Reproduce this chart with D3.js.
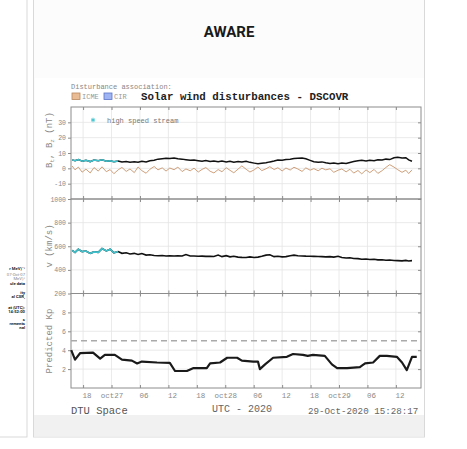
<!DOCTYPE html>
<html>
<head>
<meta charset="utf-8">
<script src="https://cdn.jsdelivr.net/npm/d3@7"></script>
<style>
  html, body { margin: 0; padding: 0; background: #fff; }
  svg { display: block; }
</style>
</head>
<body>
<div id="chart"></div>
<script>
// hours since 2020-10-26 00:00 UTC
const hours = [
  15.7, 16.3, 17.0, 17.8, 18.6, 19.5, 20.3, 21.2, 22.0, 22.9, 23.7, 24.5, 25.4,
  26.2, 27.1, 27.9, 28.8, 29.6, 30.4, 31.3, 32.1, 33.0, 33.8, 34.7, 35.5,
  36.3, 37.2, 38.0, 38.9, 39.7, 40.6, 41.4, 42.3, 43.1, 43.9, 44.8, 45.6,
  46.5, 47.3, 48.2, 49.0, 49.8, 50.7, 51.5, 52.4, 53.2, 54.1, 54.9, 55.7,
  56.6, 57.4, 58.3, 59.1, 60.0, 60.8, 61.7, 62.5, 63.3, 64.2, 65.0, 65.9,
  66.7, 67.6, 68.4, 69.2, 70.1, 70.9, 71.8, 72.6, 73.5, 74.3, 75.1, 76.0,
  76.8, 77.7, 78.5, 79.4, 80.2, 81.1, 81.9, 82.7, 83.6, 84.4, 85.3, 86.1,
  86.7, 87.4
];
const bTotal = [
  5.5, 5.0, 5.8, 4.6, 5.2, 4.4, 5.4, 4.9, 5.6, 4.7, 5.0, 4.3, 4.8,
  4.1, 4.5, 3.9, 4.3, 4.0, 4.6, 4.2, 5.0, 5.3, 6.0, 6.3, 6.6,
  6.4, 6.7, 6.2, 6.0, 5.6, 5.2, 5.5, 5.0, 4.6, 5.1, 4.4, 4.8,
  4.3, 4.7, 4.2, 4.6, 4.0, 4.4, 4.1, 4.6, 3.9, 3.4, 3.0, 3.3,
  3.6, 4.2, 4.8, 5.4, 5.2, 5.7, 6.0, 6.4, 6.6, 6.8, 6.2, 5.2,
  4.3, 3.9, 4.2, 3.6, 3.2, 3.5, 3.0, 3.4, 3.1, 3.8, 4.4, 4.9,
  5.2, 4.8, 5.3, 5.0, 5.6, 5.4, 6.0, 5.7, 6.9, 7.3, 6.8, 6.9,
  5.5, 4.6
];
const bZ = [
  1.5, -1.0, 0.8, -2.5, -0.5, -3.0, 0.5, -1.8, 1.0, -2.2, -0.8, -3.5, -1.0,
  0.6, -2.0, -0.4, -2.8, 0.9, -1.5, -3.2, -0.6, 1.2, -1.0, 0.3, -1.8,
  0.2, -0.9, 0.8, -2.1, -0.4, -1.6, 0.1, -2.4, -0.7, 0.5, -1.9, -3.0,
  -0.8, -2.2, 0.4, -1.3, -2.9, -0.5, 1.6, -0.6, -2.4, -1.0, 0.9, -1.5,
  -0.3, 1.1, -0.8, 0.4, -1.7, 0.2, -1.1, 0.7, -0.4, -2.0, 0.3, -1.2,
  -0.2, -1.6, 0.1, -1.0, -0.3, -2.6, -1.2, -0.4, -2.3, -0.6, -3.1, -1.4,
  -3.6, -1.0, -2.8, -0.7, -3.3, -1.5, 0.6, 2.4, 0.8, -0.9, -2.6, -1.2,
  -3.4, -1.0
];
const speed = [
  565, 548, 575, 555, 560, 540, 552, 548, 580, 560, 575, 545, 555,
  540, 545, 535, 540, 530, 538, 525, 528, 522, 520, 522, 518,
  520, 518, 519, 517, 530, 517, 518, 515, 516, 514, 515, 513,
  525, 512, 520, 510, 515, 508, 506, 505, 510, 505, 508, 515,
  525, 528, 512, 515, 510, 512, 520, 525, 520, 518, 516, 515,
  514, 513, 512, 510, 512, 508, 515, 505, 500, 502, 496, 495,
  490, 492, 488, 490, 485, 486, 482, 483, 480, 478, 476, 480,
  475, 478
];
const hssEnd = 25.4; // high speed stream flagged up to this hour

const kpHours = [
  15.5, 16.3, 17.4, 20.1, 21.6, 22.6, 24.7, 26.2, 28.3, 29.4, 30.4, 33.6,
  36.3, 37.4, 39.9, 41.2, 44.1, 44.8, 46.9, 48.4, 50.5, 51.5, 53.9, 54.9,
  55.3, 56.4, 58.1, 61.0, 62.3, 64.4, 65.4, 66.5, 69.0, 70.5, 71.6, 73.7,
  76.4, 77.5, 79.2, 80.6, 82.1, 84.2, 85.3, 86.3, 87.4, 88.4
];
const kpValues = [
  4.0, 3.0, 3.7, 3.75, 3.1, 3.5, 3.5, 3.0, 2.9, 2.6, 2.8, 2.7,
  2.65, 1.8, 1.8, 2.1, 2.1, 2.6, 2.7, 3.2, 3.2, 2.9, 2.8, 2.8,
  2.0, 2.5, 3.2, 3.3, 3.6, 3.5, 3.4, 3.5, 3.4, 2.5, 2.1, 2.1,
  2.2, 2.6, 2.7, 3.4, 3.4, 3.3, 2.7, 1.9, 3.3, 3.3
];
const kpThreshold = 5;

const xTickHours = [18, 24, 30, 36, 42, 48, 54, 60, 66, 72, 78, 84];
const xTickLabels = ["18", "oct27", "06", "12", "18", "oct28", "06", "12", "18", "oct29", "06", "12"];
const bTicks = [-10, 0, 10, 20, 30];
const vTicks = [200, 400, 600, 800, 1000];
const kpTicks = [2, 4, 6, 8];

const leftPanelLines = [
  { t: "r MeV)\u207B\u00B9", y: 270, b: true },
  { t: "07-Oct-07", y: 276, b: false },
  { t: "MeV)\u00B9", y: 280, b: false },
  { t: "ule data", y: 285, b: true },
  { t: "ity", y: 294, b: true },
  { t: "al CSR,", y: 298, b: true },
  { t: "at (UTC):", y: 309, b: true },
  { t: "14:52:00", y: 313, b: true },
  { t: "s", y: 321, b: true },
  { t: "rements", y: 325, b: true },
  { t: "nal", y: 329, b: true }
];

const W = 467, H = 449;
const mono = "'Liberation Mono', 'DejaVu Sans Mono', monospace";
const t0 = Date.UTC(2020, 9, 26);
const toDate = (h) => new Date(t0 + h * 3600e3);

const svg = d3.select("#chart").append("svg")
  .attr("width", W).attr("height", H)
  .style("font-family", mono);

// ---- page panels ----
svg.append("rect").attr("x", -2).attr("y", -2).attr("width", 29).attr("height", 439)
  .attr("fill", "#fff").attr("stroke", "#d9d9d9");
svg.append("rect").attr("x", 33.5).attr("y", -2).attr("width", 391).attr("height", 439)
  .attr("fill", "#fcfcfc").attr("stroke", "#d9d9d9");
svg.append("rect").attr("x", 34).attr("y", 415).attr("width", 390).attr("height", 21.5)
  .attr("fill", "#f1f1f1");
svg.append("rect").attr("x", 35).attr("y", 78).attr("width", 389).attr("height", 337)
  .attr("fill", "#fff");

svg.append("g")
  .selectAll("text").data(leftPanelLines).enter().append("text")
  .attr("x", 25).attr("y", (d) => d.y)
  .attr("text-anchor", "end")
  .style("font-family", "Roboto, sans-serif")
  .style("font-size", "4.2px")
  .style("font-weight", (d) => (d.b ? 700 : 400))
  .attr("fill", (d) => (d.b ? "#222" : "#888"))
  .text((d) => d.t);

svg.append("text")
  .attr("x", 229).attr("y", 37)
  .attr("text-anchor", "middle")
  .style("font-family", "Roboto, sans-serif")
  .style("font-weight", 700)
  .style("font-size", "15px")
  .attr("fill", "#1a1a1a")
  .text("AWARE");

// ---- chart header ----
svg.append("text").attr("x", 71).attr("y", 89)
  .style("font-size", "7px").attr("fill", "#888")
  .text("Disturbance association:");

const legendBoxes = [
  { label: "ICME", fill: "#e9bc96", stroke: "#b9875e", x: 72 },
  { label: "CIR", fill: "#9fb4f2", stroke: "#5a73c8", x: 104 }
];
legendBoxes.forEach((d) => {
  svg.append("rect").attr("x", d.x).attr("y", 93).attr("width", 8).attr("height", 6.5)
    .attr("fill", d.fill).attr("stroke", d.stroke).attr("stroke-width", 0.8);
  svg.append("text").attr("x", d.x + 10).attr("y", 99)
    .style("font-size", "7px").attr("fill", "#999").text(d.label);
});

svg.append("text").attr("x", 141).attr("y", 100)
  .style("font-size", "10.8px").style("font-weight", 700).attr("fill", "#222")
  .text("Solar wind disturbances - DSCOVR");

// ---- scales ----
const x = d3.scaleUtc()
  .domain([toDate(15.45), toDate(89.3)])
  .range([71, 421]);

const panels = [
  { top: 107, bottom: 199, domain: [-20, 40], ticks: bTicks },
  { top: 199, bottom: 293.5, domain: [200, 1000], ticks: vTicks },
  { top: 293.5, bottom: 388, domain: [0, 10], ticks: kpTicks }
];
panels.forEach((p) => {
  p.y = d3.scaleLinear().domain(p.domain).range([p.bottom, p.top]);
});

const xTicks = xTickHours.map(toDate);
const gridColor = "#e4e4e4";
const axisColor = "#8c8c8c";

panels.forEach((p, i) => {
  const g = svg.append("g").attr("class", "panel");

  // grid
  g.append("g").selectAll("line").data(xTicks).enter().append("line")
    .attr("x1", (d) => x(d)).attr("x2", (d) => x(d))
    .attr("y1", p.top).attr("y2", p.bottom)
    .attr("stroke", gridColor).attr("stroke-width", 0.8);
  g.append("g").selectAll("line").data(p.ticks.filter((t) => t > p.domain[0] && t < p.domain[1]))
    .enter().append("line")
    .attr("x1", 71).attr("x2", 421)
    .attr("y1", (d) => p.y(d)).attr("y2", (d) => p.y(d))
    .attr("stroke", gridColor).attr("stroke-width", 0.8);

  // left axis with labels
  g.append("g").attr("transform", "translate(71,0)")
    .call(d3.axisLeft(p.y).tickValues(p.ticks).tickSize(3).tickPadding(2)
      .tickFormat((d) => String(d)))
    .call((a) => a.select(".domain").remove())
    .call((a) => a.selectAll("line").attr("stroke", axisColor))
    .call((a) => a.selectAll("text").style("font-family", mono)
      .style("font-size", "6.5px").attr("fill", "#8a8a8a"));

  // right axis inner ticks
  g.append("g").attr("transform", "translate(421,0)")
    .call(d3.axisRight(p.y).tickValues(p.ticks).tickSize(-3).tickFormat(""))
    .call((a) => a.select(".domain").remove())
    .call((a) => a.selectAll("line").attr("stroke", axisColor));

  // top inner ticks
  g.append("g").attr("transform", `translate(0,${p.top})`)
    .call(d3.axisTop(x).tickValues(xTicks).tickSize(-3).tickFormat(""))
    .call((a) => a.select(".domain").remove())
    .call((a) => a.selectAll("line").attr("stroke", axisColor));

  // bottom inner ticks (labels on last panel)
  const bottomAxis = d3.axisBottom(x).tickValues(xTicks).tickSize(-3).tickPadding(5)
    .tickFormat(i === panels.length - 1 ? (d, k) => xTickLabels[k] : "");
  g.append("g").attr("transform", `translate(0,${p.bottom})`)
    .call(bottomAxis)
    .call((a) => a.select(".domain").remove())
    .call((a) => a.selectAll("line").attr("stroke", axisColor))
    .call((a) => a.selectAll("text").style("font-family", mono)
      .style("font-size", "7.5px").attr("fill", "#8a8a8a")
      .attr("dx", (d, k) => (xTickLabels[k].length === 2 ? 3.5 : 0)));

  // box
  g.append("rect")
    .attr("x", 71).attr("y", p.top)
    .attr("width", 350).attr("height", p.bottom - p.top)
    .attr("fill", "none").attr("stroke", axisColor).attr("stroke-width", 1);
});

// ---- y labels ----
const yLab = (cx, cy) => svg.append("text")
  .attr("transform", `translate(${cx},${cy}) rotate(-90)`)
  .attr("text-anchor", "middle")
  .style("font-size", "9px").attr("fill", "#8a8a8a");

const bLab = yLab(52, 140);
bLab.append("tspan").text("B");
bLab.append("tspan").attr("dy", 2).style("font-size", "6px").text("t");
bLab.append("tspan").attr("dy", -2).text(", B");
bLab.append("tspan").attr("dy", 2).style("font-size", "6px").text("z");
bLab.append("tspan").attr("dy", -2).text(" (nT)");
yLab(52, 246).text("v (km/s)");
yLab(52, 341).text("Predicted Kp");

// ---- data lines ----
const pB = panels[0], pV = panels[1], pK = panels[2];
const rows = hours.map((h, i) => ({ t: toDate(h), h, b: bTotal[i], bz: bZ[i], v: speed[i] }));
const hss = rows.filter((d) => d.h <= hssEnd);

const lineOf = (y, key) => d3.line()
  .defined((d) => d[key] != null)
  .x((d) => x(d.t)).y((d) => y(d[key]));

svg.append("path").datum(rows)
  .attr("d", lineOf(pB.y, "bz"))
  .attr("fill", "none").attr("stroke", "#cf9f7a").attr("stroke-width", 1);
svg.append("path").datum(rows)
  .attr("d", lineOf(pB.y, "b"))
  .attr("fill", "none").attr("stroke", "#111").attr("stroke-width", 1.5);
svg.append("path").datum(hss)
  .attr("d", lineOf(pB.y, "b"))
  .attr("fill", "none").attr("stroke", "#3fc4cf").attr("stroke-width", 1.5);

svg.append("path").datum(rows)
  .attr("d", lineOf(pV.y, "v"))
  .attr("fill", "none").attr("stroke", "#111").attr("stroke-width", 1.6);
svg.append("path").datum(hss)
  .attr("d", lineOf(pV.y, "v"))
  .attr("fill", "none").attr("stroke", "#3fc4cf").attr("stroke-width", 1.6);

// high speed stream legend
svg.append("path")
  .attr("transform", "translate(93,120)")
  .attr("d", d3.symbol(d3.symbolAsterisk, 14)())
  .attr("stroke", "#3fc4cf").attr("stroke-width", 1);
svg.append("text").attr("x", 107).attr("y", 122.5)
  .style("font-size", "7px").attr("fill", "#777").text("high speed stream");

// Kp threshold and line
svg.append("line")
  .attr("x1", 71).attr("x2", 421)
  .attr("y1", pK.y(kpThreshold)).attr("y2", pK.y(kpThreshold))
  .attr("stroke", "#aaa").attr("stroke-width", 1.5).attr("stroke-dasharray", "6,4");

const kpRows = kpHours.map((h, i) => ({ t: toDate(h), kp: kpValues[i] }));
svg.append("path").datum(kpRows)
  .attr("d", lineOf(pK.y, "kp"))
  .attr("fill", "none").attr("stroke", "#1a1a1a").attr("stroke-width", 2.2)
  .attr("stroke-linejoin", "round");

// ---- footer ----
svg.append("text").attr("x", 71).attr("y", 414)
  .style("font-size", "10.5px").attr("fill", "#555").text("DTU Space");
svg.append("text").attr("x", 212).attr("y", 412)
  .style("font-size", "10px").attr("fill", "#666").text("UTC  -  2020");
svg.append("text").attr("x", 308).attr("y", 414)
  .style("font-size", "9.2px").attr("fill", "#666").text("29-Oct-2020 15:28:17");
</script>
</body>
</html>
